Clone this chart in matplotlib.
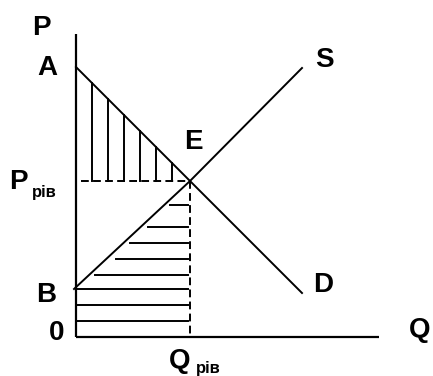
import numpy as np
import matplotlib
matplotlib.use("Agg")
import matplotlib.pyplot as plt

plt.rcParams['font.family'] = ['Liberation Sans', 'DejaVu Sans']

# equilibrium
q_eq = 11.4
p_eq = 15.6

# demand curve A -> E -> D
demand_q = [0.0, 11.4, 22.6]
demand_p = [27.0, 15.6, 4.4]

# supply curve B -> E -> S
supply_q = [-0.2, 11.4, 22.6]
supply_p = [4.8, 15.6, 26.9]

# consumer surplus hatching (vertical lines)
cs_q = [1.6, 3.2, 4.8, 6.4, 8.0, 9.6]

# producer surplus hatching (horizontal lines)
ps_p = [1.6, 3.2, 4.8, 6.2, 7.8, 9.4, 11.0, 13.2]
ps_start = [0.0, 0.0, 0.0, 1.9, 4.0, 5.4, 7.2, 9.4]
ps_end = 11.2

axis_len = 30.3

fig = plt.figure(figsize=(4.33, 3.76), dpi=100)
ax = fig.add_axes([0, 0, 1, 1])
ax.set_xlim(-7.6, 35.7)
ax.set_ylim(-3.9, 33.7)
ax.axis("off")

lw = 1.4
# axes
ax.plot([0, 0], [0, axis_len], c="k", lw=1.6, solid_capstyle="butt")
ax.plot([0, axis_len], [0, 0], c="k", lw=1.6, solid_capstyle="butt")

# curves
ax.plot(demand_q, demand_p, c="k", lw=lw)
ax.plot(supply_q, supply_p, c="k", lw=lw)

# dashed guides
dash = (0, (4, 2.2))
ax.plot([0.5, q_eq], [p_eq, p_eq], c="k", lw=lw, ls=dash)
ax.plot([q_eq, q_eq], [p_eq, 0], c="k", lw=lw, ls=dash)

# consumer surplus
for q in cs_q:
    top = np.interp(q, demand_q, demand_p)
    ax.plot([q, q], [p_eq, top], c="k", lw=lw)

# producer surplus
for p, s in zip(ps_p, ps_start):
    ax.plot([s, ps_end], [p, p], c="k", lw=lw)

big = dict(fontsize=20, fontweight="bold", ha="center", va="center")
small = dict(fontsize=12, fontweight="bold", ha="center", va="center")
ax.text(-3.5, 30.9, "P", **big)
ax.text(-2.9, 26.9, "A", **big)
ax.text(11.7, 19.5, "E", **big)
ax.text(24.8, 27.7, "S", **big)
ax.text(24.7, 5.2, "D", **big)
ax.text(-3.0, 4.2, "B", **big)
ax.text(-1.9, 0.4, "0", **big)
ax.text(34.4, 0.7, "Q", **big)
ax.text(-5.8, 15.5, "P", **big)
ax.text(-3.2, 14.4, "рів", **small)
ax.text(10.4, -2.4, "Q", **big)
ax.text(13.2, -3.1, "рів", **small)

fig.savefig("out.png", dpi=100)
